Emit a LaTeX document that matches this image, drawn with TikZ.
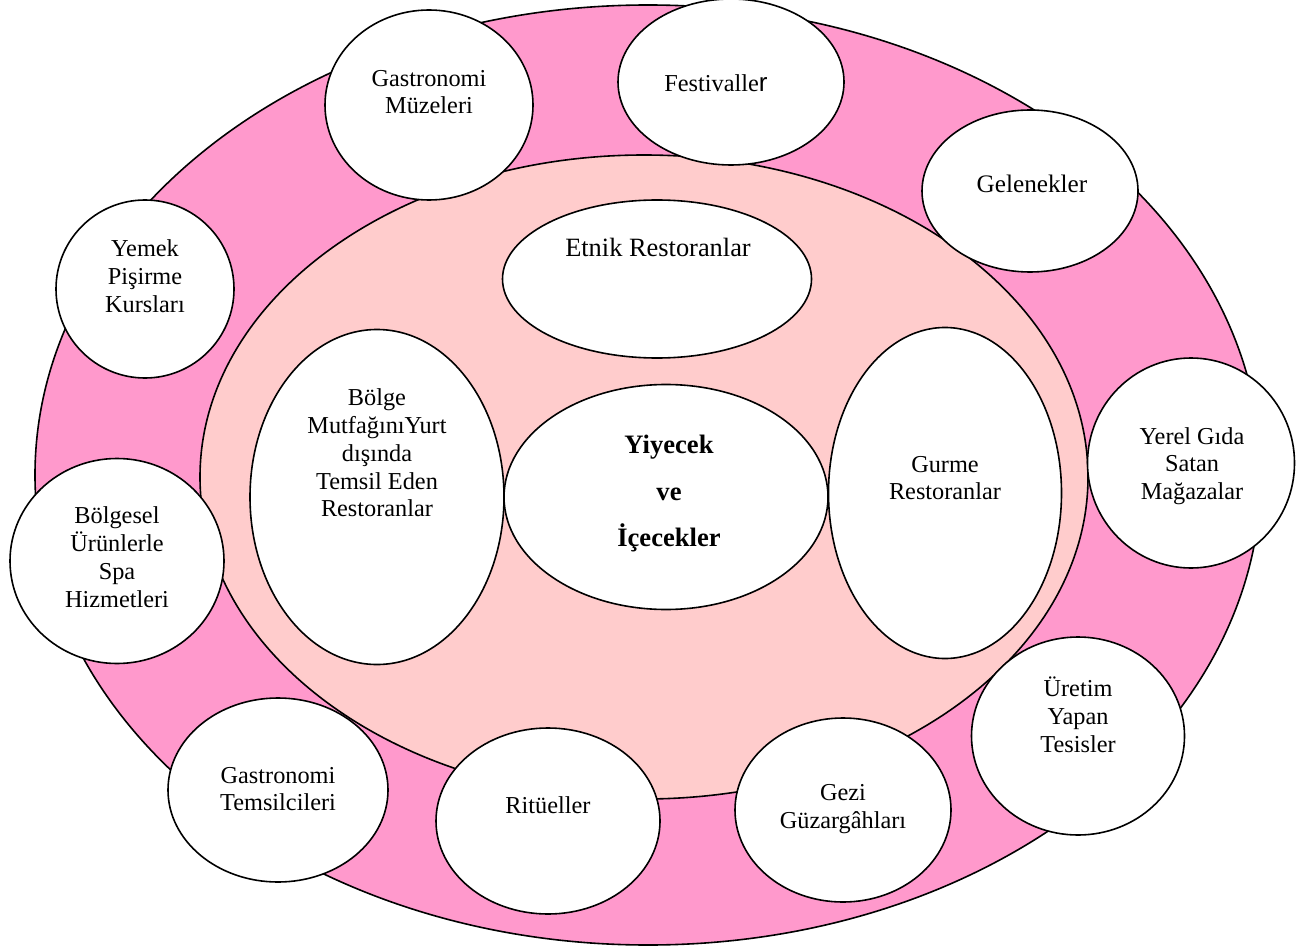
\documentclass[tikz,border=0pt]{standalone}
\usepackage{fontspec}
\setmainfont{Liberation Serif}
\newfontfamily\arialf{Liberation Sans}
\usetikzlibrary{shapes.geometric}
\tikzset{
  bubble/.style={ellipse, draw=black, line width=1.6pt, fill=white, inner sep=0pt},
  lbl/.style={align=center, font=\fontsize{24.3}{27.8}\selectfont, inner sep=0pt},
}
\begin{document}
\begin{tikzpicture}[x=1pt,y=-1pt]
\useasboundingbox (0,0) rectangle (1305,949);
\node[ellipse, draw=black, line width=1.6pt, fill={rgb,255:red,255;green,153;blue,204}, minimum width=1226pt, minimum height=940pt, inner sep=0pt] (outer) at (648,475) {};
\node[ellipse, draw=black, line width=1.6pt, fill={rgb,255:red,255;green,204;blue,204}, minimum width=888pt, minimum height=644pt, inner sep=0pt] (inner) at (644,477) {};
% outer ring
\node[bubble, minimum width=208pt, minimum height=190pt] (muz) at (429,105) {};
\node[bubble, minimum width=226pt, minimum height=166pt] (fes) at (731,82) {};
\node[bubble, minimum width=216pt, minimum height=162pt] (gel) at (1030,191) {};
\node[bubble, minimum width=178pt, minimum height=178pt] (yem) at (145,289) {};
\node[bubble, minimum width=207pt, minimum height=210pt] (yer) at (1191,463) {};
\node[bubble, minimum width=214pt, minimum height=205pt] (spa) at (117,561) {};
\node[bubble, minimum width=213pt, minimum height=198pt] (ure) at (1078,736) {};
\node[bubble, minimum width=220pt, minimum height=184pt] (tem) at (278,790) {};
\node[bubble, minimum width=224pt, minimum height=186pt] (rit) at (548,821) {};
\node[bubble, minimum width=216pt, minimum height=184pt] (gez) at (843,810) {};
% inner
\node[bubble, minimum width=309pt, minimum height=158pt] (etn) at (657,279) {};
\node[bubble, minimum width=254pt, minimum height=335pt] (bol) at (377,497) {};
\node[bubble, minimum width=324pt, minimum height=225pt] (yiy) at (666,497) {};
\node[bubble, minimum width=233pt, minimum height=331pt] (gur) at (945,493) {};
% labels
\node[lbl] (tmuz) at (429,92) {Gastronomi\\Müzeleri};
\node[lbl] (tfes) at (716,83) {Festivalle{\arialf\fontsize{26}{28}\selectfont r}};
\node[lbl, font=\fontsize{25.2}{28}\selectfont] (tgel) at (1032,184) {Gelenekler};
\node[lbl] (tyem) at (145,276) {Yemek\\Pişirme\\Kursları};
\node[lbl] (tyer) at (1192,466) {Yerel Gıda\\Satan\\Mağazalar};
\node[lbl] (tspa) at (117,557) {Bölgesel\\Ürünlerle\\Spa\\Hizmetleri};
\node[lbl] (ture) at (1078,715) {Üretim\\Yapan\\Tesisler};
\node[lbl] (ttem) at (278,789) {Gastronomi\\Temsilcileri};
\node[lbl] (trit) at (548,805) {Ritüeller};
\node[lbl] (tgez) at (843,809) {Gezi\\Güzargâhları};
\node[lbl, font=\fontsize{26.4}{28}\selectfont] (tetn) at (658,247) {Etnik Restoranlar};
\node[lbl] (tbol) at (377,453) {Bölge\\MutfağınıYurt\\dışında\\Temsil Eden\\Restoranlar};
\node[lbl, font=\bfseries\fontsize{26.6}{46.5}\selectfont] (tyiy) at (669,494) {Yiyecek\\ve\\İçecekler};
\node[lbl] (tgur) at (945,478) {Gurme\\Restoranlar};
\end{tikzpicture}
\end{document}
